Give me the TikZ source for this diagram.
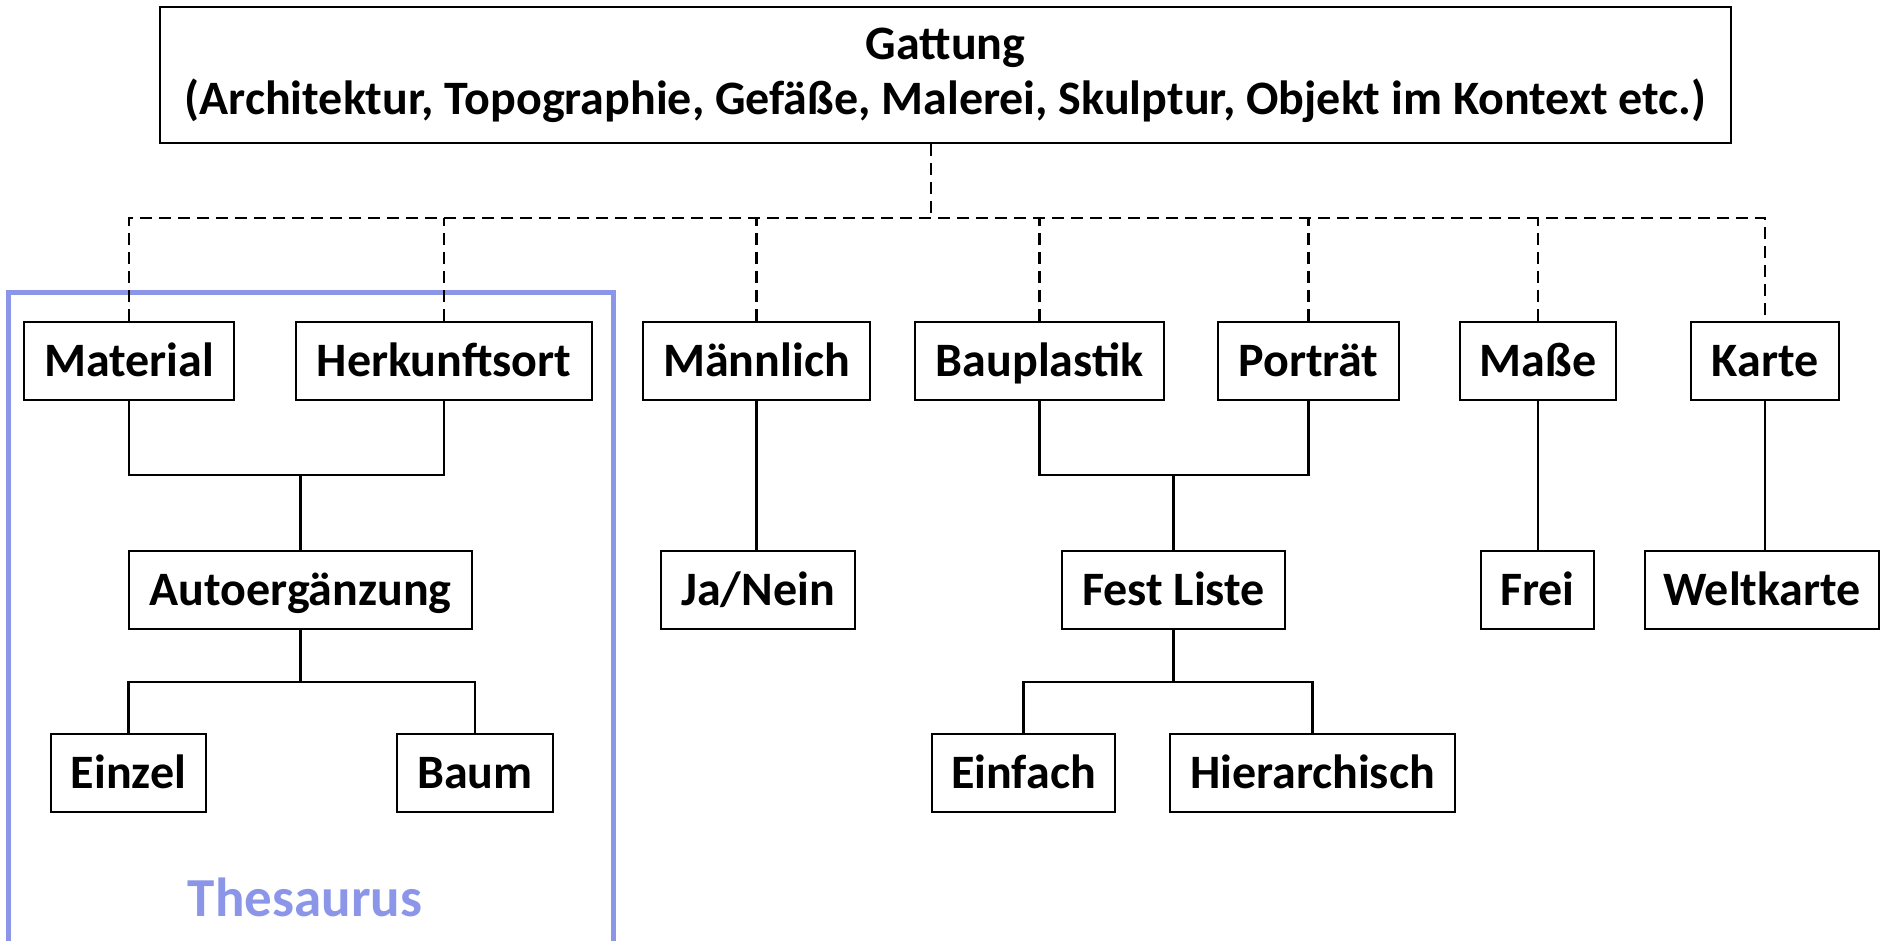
\documentclass[tikz,border=0pt]{standalone}
\usepackage{fontspec}
\setmainfont{Carlito}
\definecolor{thesblue}{HTML}{8B96E9}
\begin{document}
\begin{tikzpicture}[x=0.5pt,y=-0.5pt,
  frame/.style={draw=black,line width=1.1pt,fill=white,inner sep=0pt,
    font=\fontsize{24}{27.5}\selectfont\bfseries,align=center},
  box/.style={frame,minimum height=39pt,text height=18pt,text depth=2.5pt},
  tree/.style={draw=black,line width=1.1pt},
  dashline/.style={draw=black,line width=1.4pt,dash pattern=on 6pt off 3.5pt},
  thes/.style={draw=thesblue,line width=2.5pt}]
\useasboundingbox (0,0) rectangle (1881,941);
\fill[white] (0,0) rectangle (1881,941);
% Thesaurus frame
\draw[thes] (8,941) -- (8,293) -- (613,293) -- (613,941);
\node[text=thesblue,font=\fontsize{27.5}{30}\selectfont\bfseries] (thesaurus) at (305,897) {Thesaurus};
% nodes
\node[frame,minimum width=785.5pt,minimum height=68pt] (gattung) at (945.5,75)
  {\raisebox{-2pt}{Gattung}\\\raisebox{-2pt}{(Architektur, Topographie, Gefäße, Malerei, Skulptur, Objekt im Kontext etc.)}};
\node[box,minimum width=105pt] (mat) at (129,361) {Material};
\node[box,minimum width=148pt] (herk) at (444,361) {Herkunftsort};
\node[box,minimum width=113.5pt] (maen) at (756.5,361) {Männlich};
\node[box,minimum width=124.5pt] (baup) at (1039.5,361) {Bauplastik};
\node[box,minimum width=90.5pt] (port) at (1308.5,361) {Porträt};
\node[box,minimum width=78pt] (masse) at (1538,361) {Maße};
\node[box,minimum width=74pt] (karte) at (1765,361) {Karte};
\node[box,minimum width=171.5pt] (auto) at (300.5,590) {Autoergänzung};
\node[box,minimum width=97pt] (janein) at (758,590) {Ja/Nein};
\node[box,minimum width=111.5pt] (fest) at (1173.5,590) {Fest Liste};
\node[box,minimum width=56.5pt] (frei) at (1537.5,590) {Frei};
\node[box,minimum width=117pt] (welt) at (1762,590) {Weltkarte};
\node[box,minimum width=77.5pt] (einzel) at (128.5,773) {Einzel};
\node[box,minimum width=78pt] (baum) at (475,773) {Baum};
\node[box,minimum width=91.5pt] (einfach) at (1023.5,773) {Einfach};
\node[box,minimum width=142.5pt] (hier) at (1312.5,773) {Hierarchisch};
% bus coordinates
\coordinate (bus) at (0,218);
\coordinate (m1) at (0,475);
\coordinate (m2) at (0,682);
\coordinate (gdrop) at ([xshift=-7.25pt]gattung.south);
% dashed connectors
\draw[dashline] (gdrop) -- (gdrop |- bus);
\draw[dashline] (mat.north) -- (mat.north |- bus) -- (karte.north |- bus) -- (karte.north);
\foreach \n in {herk,maen,baup,port,masse}
  \draw[dashline] (\n.north) -- (\n.north |- bus);
% solid connectors
\draw[tree] (mat.south) -- (mat.south |- m1) -- (herk.south |- m1) -- (herk.south);
\draw[tree] (auto.north) -- (auto.north |- m1);
\draw[tree] (auto.south) -- (auto.south |- m2);
\draw[tree] (einzel.north) -- (einzel.north |- m2) -- (baum.north |- m2) -- (baum.north);
\draw[tree] (baup.south) -- (baup.south |- m1) -- (port.south |- m1) -- (port.south);
\draw[tree] (fest.north) -- (fest.north |- m1);
\draw[tree] (fest.south) -- (fest.south |- m2);
\draw[tree] (einfach.north) -- (einfach.north |- m2) -- (hier.north |- m2) -- (hier.north);
\draw[tree] (maen.south) -- (maen.south |- janein.north);
\draw[tree] (masse.south) -- (masse.south |- frei.north);
\draw[tree] (karte.south) -- (karte.south |- welt.north);
\end{tikzpicture}
\end{document}
